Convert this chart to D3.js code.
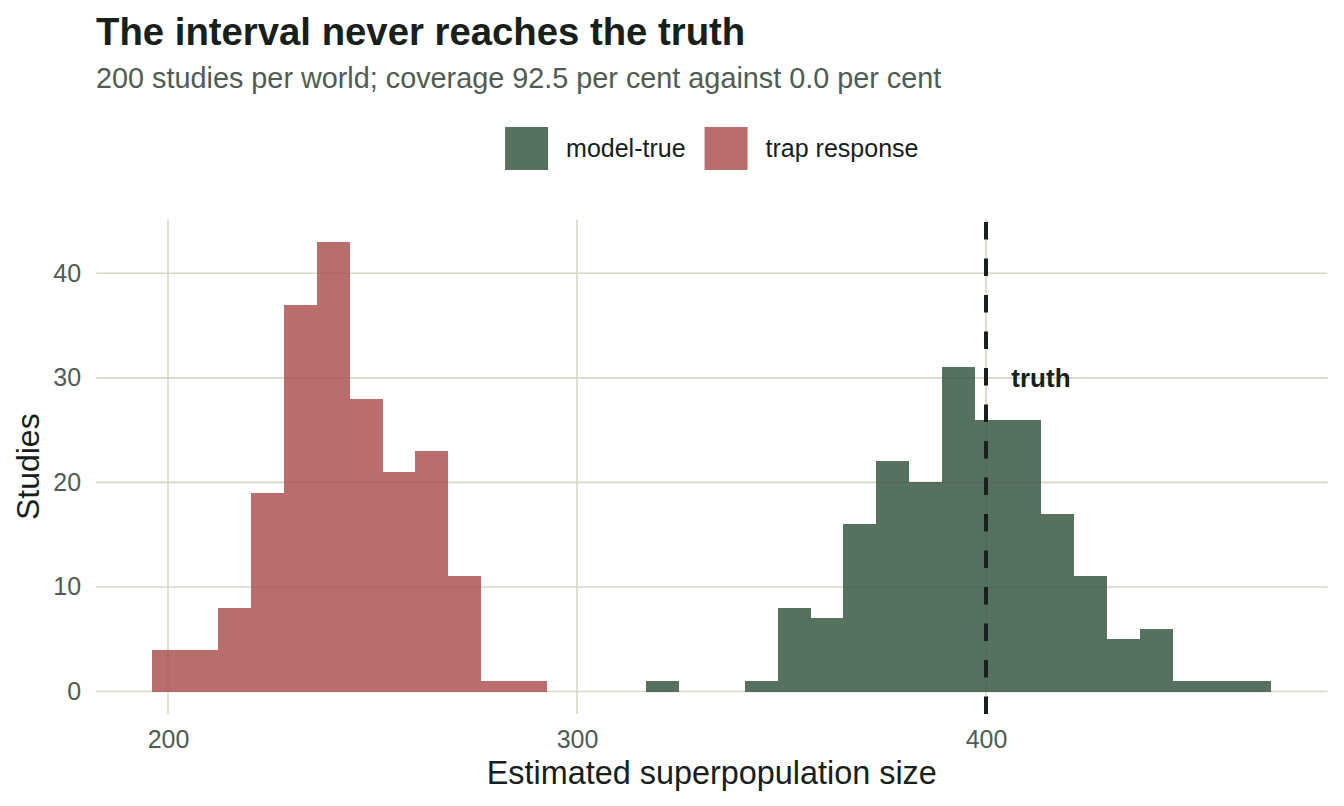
<!DOCTYPE html>
<html>
<head>
<meta charset="utf-8">
<script src="https://cdn.jsdelivr.net/npm/d3@7"></script>
<style>
 body { margin: 0; background: #fff; }
 text { font-family: "Liberation Sans", Arial, Helvetica, sans-serif; }
</style>
</head>
<body>
<svg width="1344" height="806"></svg>
<script>
var svg = d3.select("svg"),
 width = +svg.attr("width"),
 height = +svg.attr("height");

// histogram bins (shared by both worlds)
var binStart = 196.1;
var binWidth = 8.05;

// counts per bin
var modelCounts = [0, 0, 0, 0, 0, 0, 0, 0, 0, 0, 0, 0, 0, 0, 0, 1, 0, 0, 1, 8, 7, 16, 22, 20, 31, 26, 26, 17, 11, 5, 6, 1, 1, 1];
var trapCounts = [4, 4, 8, 19, 37, 43, 28, 21, 23, 11, 1, 1, 0, 0, 0, 0, 0, 0, 0, 0, 0, 0, 0, 0, 0, 0, 0, 0, 0, 0, 0, 0, 0, 0];

var groups = ["model-true", "trap response"];
var xTicks = [200, 300, 400];
var yTicks = [0, 10, 20, 30, 40];
var truthValue = 400;

var ink = "#17201a", grey = "#4f5c53", gridCol = "#d6d7c6";

var color = d3.scaleOrdinal()
 .domain(groups)
 .range(["#3a5843", "#ad5353"]);

// scales, anchored to where the ticks sit
var x = d3.scaleLinear().domain([200, 400]).range([168, 986]);
var y = d3.scaleLinear().domain([0, 40]).range([691.5, 273.3]);

var nBins = modelCounts.length;
var xLo = binStart, xHi = binStart + nBins * binWidth;
var xPad = (xHi - xLo) * 0.05, yPad = 43 * 0.05;
// panel edges (note: "top" is taken by window, so pTop etc.)
var pLeft = x(xLo - xPad), pRight = x(xHi + xPad);
var pTop = y(43 + yPad), pBottom = y(-yPad);

// grid lines
svg.append("g").selectAll("line")
 .data(yTicks)
 .enter().append("line")
 .attr("x1", pLeft).attr("x2", pRight)
 .attr("y1", function(d) { return y(d); })
 .attr("y2", function(d) { return y(d); })
 .attr("stroke", gridCol).attr("stroke-width", 1.6);

svg.append("g").selectAll("line")
 .data(xTicks)
 .enter().append("line")
 .attr("y1", pTop).attr("y2", pBottom)
 .attr("x1", function(d) { return x(d); })
 .attr("x2", function(d) { return x(d); })
 .attr("stroke", gridCol).attr("stroke-width", 1.6);

// turn the count arrays into bars
function toBars(counts, group) {
 return counts.map(function(c, i) {
   return { group: group, x0: binStart + i * binWidth, x1: binStart + (i + 1) * binWidth, n: c };
 }).filter(function(d) { return d.n > 0; });
}
var bars = toBars(modelCounts, groups[0]).concat(toBars(trapCounts, groups[1]));

svg.append("g").selectAll("rect")
 .data(bars)
 .enter().append("rect")
 .attr("x", function(d) { return x(d.x0); })
 .attr("width", function(d) { return x(d.x1) - x(d.x0); })
 .attr("y", function(d) { return y(d.n); })
 .attr("height", function(d) { return y(0) - y(d.n); })
 .attr("fill", function(d) { return color(d.group); })
 .attr("fill-opacity", 0.85)
 .attr("shape-rendering", "crispEdges");

// the truth line, dashes start from the bottom
svg.append("line")
 .attr("x1", x(truthValue)).attr("x2", x(truthValue))
 .attr("y1", pBottom).attr("y2", pTop)
 .attr("stroke", ink)
 .attr("stroke-width", 4)
 .attr("stroke-dasharray", "17.5,19");

svg.append("text")
 .attr("x", x(truthValue + 6.2))
 .attr("y", y(30))
 .attr("dy", "0.36em")
 .attr("fill", ink)
 .attr("font-weight", "bold")
 .attr("font-size", 26)
 .text("truth");

// axes: labels only, no lines (theme_minimal look)
var xAxis = svg.append("g")
 .attr("transform", "translate(0," + pBottom + ")")
 .call(d3.axisBottom(x).tickValues(xTicks).tickSize(0).tickPadding(30));
var yAxis = svg.append("g")
 .attr("transform", "translate(" + pLeft + ",0)")
 .call(d3.axisLeft(y).tickValues(yTicks).tickSize(0).tickPadding(15));
[xAxis, yAxis].forEach(function(a) {
 a.select(".domain").remove();
 a.selectAll("text")
   .attr("fill", grey)
   .attr("font-size", 25)
   .attr("font-family", "Liberation Sans, Arial, sans-serif");
});
xAxis.selectAll("text").attr("dy", null).attr("y", 748 - pBottom);

svg.append("text")
 .attr("x", (pLeft + pRight) / 2)
 .attr("y", 784)
 .attr("text-anchor", "middle")
 .attr("fill", ink)
 .attr("font-size", 32.4)
 .text("Estimated superpopulation size");

svg.append("text")
 .attr("transform", "translate(39," + (pTop + pBottom) / 2 + ") rotate(-90)")
 .attr("text-anchor", "middle")
 .attr("fill", ink)
 .attr("font-size", 32)
 .text("Studies");

// title + subtitle
svg.append("text")
 .attr("x", pLeft).attr("y", 45)
 .attr("fill", ink)
 .attr("font-weight", "bold")
 .attr("font-size", 38.3)
 .text("The interval never reaches the truth");

svg.append("text")
 .attr("x", pLeft).attr("y", 88)
 .attr("fill", grey)
 .attr("font-size", 28.8)
 .text("200 studies per world; coverage 92.5 per cent against 0.0 per cent");

// legend, centred over the panel
var legend = svg.append("g");
var cursor = 0;
groups.forEach(function(g, i) {
 var item = legend.append("g").attr("transform", "translate(" + cursor + ",0)");
 item.append("rect")
   .attr("x", 0).attr("y", 127)
   .attr("width", 43).attr("height", 43)
   .attr("fill", color(g))
   .attr("fill-opacity", 0.85);
 var t = item.append("text")
   .attr("x", 61).attr("y", 157)
   .attr("fill", ink)
   .attr("font-size", 25)
   .text(g);
 cursor += 61 + t.node().getComputedTextLength() + 19;
});
var legendWidth = cursor - 19;
legend.attr("transform", "translate(" + ((pLeft + pRight) / 2 - legendWidth / 2) + ",0)");
</script>
</body>
</html>
